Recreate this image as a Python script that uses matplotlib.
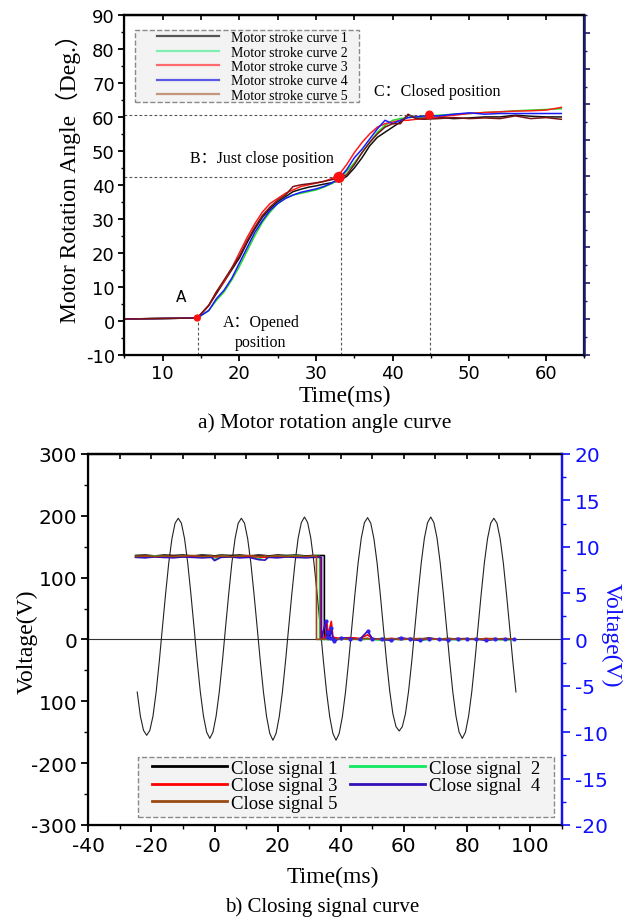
import numpy as np
import matplotlib
matplotlib.use('Agg')
import matplotlib.pyplot as plt
from matplotlib.lines import Line2D
from matplotlib.patches import Rectangle
from matplotlib.ticker import MultipleLocator

serif = ['Liberation Serif', 'Noto Sans CJK SC']
plt.rcParams['font.family'] = ['DejaVu Sans']
plt.rcParams['axes.unicode_minus'] = False

# ---- a) motor stroke curves ----
t_motor = [5, 14.5, 16, 17, 18, 19, 20, 21, 22, 23, 24, 25, 26, 27, 28, 29, 30, 31, 32, 33, 34,
           35, 36, 37, 38, 39, 40, 41, 42, 43, 44, 46, 48, 50, 52, 54, 56, 58, 60, 62]
curve1 = [0.5, 0.8, 4.5, 8, 11.5, 15, 18.5, 23, 27, 30.5, 33, 35, 36.5, 38, 38.7, 39.3, 39.7, 40.2,
          40.6, 41.2, 42.5, 45, 48, 51.5, 54, 55.5, 57, 58.5, 60.5, 60, 60, 59.8, 59.5, 59.7, 60, 60,
          60.5, 60.2, 60, 60]
curve2 = [0.5, 0.8, 3, 6, 8.5, 12, 16, 20.5, 25, 29, 32, 34.5, 36, 37, 37.5, 38, 38.5, 39.3, 40.3,
          41.5, 44, 46.5, 49.5, 52.5, 55.5, 57.5, 59, 59.5, 59.8, 60, 60.2, 60.5, 60.8, 61, 61.3, 61.5,
          61.8, 62, 62.2, 62.4]
curve3 = [0.5, 0.8, 4.5, 8.5, 11.5, 15.5, 20, 24.5, 28.5, 32, 34.5, 36, 37.5, 38.5, 39.5, 40, 40.5,
          41, 41.8, 43, 46, 49.5, 52.5, 55, 57, 58, 58.5, 59, 59, 59.3, 59.5, 60, 60.5, 61, 61.3, 61.5,
          61.7, 61.8, 62, 62.8]
curve4 = [0.5, 0.8, 3, 6.5, 9, 12.5, 17, 21.5, 26, 29.5, 32.5, 34.5, 36, 37, 37.8, 38.3, 38.8, 39.5,
          40.5, 41.8, 44.5, 48, 50.5, 53.5, 56.5, 59, 58, 59, 59.8, 60, 60.3, 60.3, 60.8, 61.2, 60.8, 61,
          61, 61, 61, 61]
curve5 = [0.5, 0.8, 4.5, 8.5, 12, 15.5, 19, 23.5, 27.5, 31, 33.5, 35.5, 37, 39.5, 40, 40.3, 40.6, 41,
          41.5, 42, 43, 46, 49.5, 52.5, 55, 57, 58, 58, 60.8, 59.5, 59.3, 59.5, 59.8, 59.5, 59.7, 59.5,
          60.3, 59.5, 59.8, 59.3]
curve_labels = ['Motor stroke curve 1', 'Motor stroke curve 2', 'Motor stroke curve 3',
                'Motor stroke curve 4', 'Motor stroke curve 5']

# key positions A, B, C
key_x = [14.5, 33.0, 44.8]
key_y = [0.8, 42.2, 60.6]
guide_x = [14.6, 33.2, 44.9]
guide_y = [0.8, 42.3, 60.5]

# ---- b) closing signal ----
t_ac = np.arange(-24.5, 96, 1.0)
v_ac = [-85, -124, -147, -155, -147, -124, -85, -35, 20, 74, 124, 163, 188,
        196, 188, 163, 124, 74, 20, -35, -85, -124, -150, -160, -150, -124, -85, -35, 20, 74, 124, 163, 188,
        196, 188, 163, 124, 74, 20, -35, -85, -125, -152, -163, -152, -125, -85, -35, 20, 74, 124, 164, 189,
        198, 189, 164, 124, 74, 20, -35, -85, -125, -152, -163, -152, -125, -85, -35, 20, 74, 124, 164, 189,
        197, 188, 163, 124, 74, 19, -35, -83, -120, -141, -148, -141, -120, -83, -35, 20, 74, 124, 164, 189,
        198, 189, 164, 124, 74, 20, -35, -85, -124, -150, -160, -150, -124, -85, -35, 20, 74, 124, 163, 188,
        196, 188, 163, 124, 74, 20, -35, -85]

t_high = [-25, -22, -19, -16, -13, -10, -7, -4, -1, 0, 2, 5, 8, 11, 14, 16, 17, 20, 23, 26, 29, 31]
t_low = [35.2, 35.6, 36.0, 36.5, 37.0, 37.5, 38.0, 40, 43, 46, 48.5, 50, 53, 56, 59, 62, 65, 68, 71,
         74, 77, 80, 83, 86, 89, 92, 94.8]
t_drop = [34.8, 33.3, 33.6, 33.9, 32.3]

sig_high = [
    [9.05, 9.1, 9.0, 9.1, 9.05, 9.1, 9.0, 9.1, 9.05, 9.0, 9.1, 9.05, 9.1, 9.0, 9.1, 9.05, 9.0, 9.1, 9.05, 9.1, 9.0, 9.05],
    [8.95, 8.9, 9.0, 8.95, 8.9, 9.0, 8.95, 8.9, 8.95, 8.6, 9.05, 8.9, 8.95, 9.0, 8.7, 8.95, 8.9, 9.0, 8.95, 9.05, 8.9, 8.95],
    [8.9, 8.95, 8.9, 8.85, 8.95, 8.9, 8.95, 8.85, 8.9, 8.9, 8.95, 8.9, 8.85, 8.95, 8.9, 8.85, 8.9, 8.95, 8.9, 8.85, 8.9, 8.9],
    [8.85, 8.8, 8.9, 8.85, 8.8, 8.9, 8.85, 8.8, 8.85, 8.5, 8.85, 8.9, 8.8, 8.85, 8.6, 8.55, 8.85, 8.8, 8.9, 8.85, 8.8, 8.85],
    [8.95, 9.0, 8.95, 9.0, 8.95, 9.0, 9.05, 8.95, 9.0, 8.95, 9.0, 8.95, 9.0, 9.05, 8.95, 9.0, 8.95, 9.0, 8.95, 9.0, 8.95, 9.0],
]
sig_low = [
    [0.1, 0.0, 0.15, 0.05, 0.1, 0.0, 0.1, 0.05, 0.15, 0.05, 0.1, 0.0, 0.1, 0.05, 0.0, 0.1, 0.05, 0.15, 0.0, 0.1, 0.05, 0.1, 0.0, 0.05, 0.1, 0.0, 0.05],
    [0.0, 0.1, -0.05, 0.05, 0.0, -0.1, 0.05, 0.0, 0.1, -0.05, 0.05, 0.0, -0.1, 0.05, 0.0, 0.05, -0.1, 0.0, 0.05, 0.0, -0.05, 0.05, 0.0, 0.1, 0.0, -0.05, 0.0],
    [0.3, 1.9, 0.4, 1.2, 1.95, 0.3, 0.2, 0.1, 0.2, 0.1, 0.5, 0.1, 0.0, 0.1, 0.05, 0.1, 0.0, 0.1, 0.05, 0.0, 0.1, 0.05, 0.0, 0.1, 0.05, 0.0, 0.05],
    [2.0, 0.3, 0.8, 0.2, 1.2, 0.1, -0.2, 0.2, 0.1, 0.0, 0.9, 0.1, 0.0, -0.1, 0.2, 0.0, -0.1, 0.1, 0.0, -0.05, 0.1, 0.0, 0.05, -0.1, 0.0, 0.05, 0.0],
    [0.05, 0.1, 0.0, 0.05, 0.1, 0.0, 0.05, 0.1, 0.0, 0.05, 0.1, 0.0, 0.05, 0.1, 0.0, 0.05, 0.1, 0.0, 0.05, 0.1, 0.0, 0.05, 0.1, 0.0, 0.05, 0.1, 0.05],
]
sig_labels = ['Close signal 1', 'Close signal  2', 'Close signal 3', 'Close signal  4', 'Close signal 5']

motor_colors = ['#111111', '#22dd22', '#ff1a1a', '#1a1aff', '#7a1414']
motor_leg_colors = ['#555555', '#80f0b0', '#ff6a6a', '#5a5ae6', '#c4977a']
sig_colors = ['#000000', '#10e860', '#ff0000', '#3311bb', '#9a4a14']
navy = '#1c1c6a'
blue = '#1010ff'
dash = (0, (2.5, 2))

fig = plt.figure(figsize=(6.44, 9.2), dpi=100)

# ================= top panel =================
ax1 = fig.add_axes([0.1933, 0.6134, 0.714, 0.3692])
for y, c in zip([curve1, curve2, curve3, curve4, curve5], motor_colors):
    ax1.plot(t_motor, y, color=c, lw=1.1)

ax1.hlines(guide_y[1:], 5, guide_x[1:], colors='#555555', linestyles=dash, lw=0.8)
ax1.vlines(guide_x, -10, guide_y, colors='#555555', linestyles=dash, lw=0.8)
ax1.scatter(key_x, key_y, s=[18, 50, 28], color='#ff1010', zorder=5)

ax1.set_xlim(5, 65)
ax1.set_ylim(-10, 90)
ax1.xaxis.set_major_locator(MultipleLocator(10))
ax1.xaxis.set_minor_locator(MultipleLocator(5))
ax1.yaxis.set_major_locator(MultipleLocator(10))
ax1.yaxis.set_minor_locator(MultipleLocator(5))
ax1.tick_params(which='major', direction='out', length=4, width=1.3, labelsize=13, pad=3)
ax1.tick_params(which='minor', direction='out', length=2.5, width=1.0)
for s in ax1.spines.values():
    s.set_linewidth(1.6)
top1 = ax1.secondary_xaxis('top')
top1.xaxis.set_major_locator(MultipleLocator(5))
top1.tick_params(direction='in', length=3.5, width=1.2, labeltop=False)
top1.spines['top'].set_linewidth(1.6)

axr1 = ax1.twinx()
axr1.set_ylim(0, 95)
axr1.yaxis.set_major_locator(MultipleLocator(10))
axr1.yaxis.set_minor_locator(MultipleLocator(5))
axr1.tick_params(which='major', direction='out', length=4, width=1.2, colors=navy, labelright=False)
axr1.tick_params(which='minor', direction='out', length=2.5, width=1.0, colors=navy)
axr1.spines['right'].set_color(navy)
axr1.spines['right'].set_linewidth(1.8)

ax1.set_xlabel('Time(ms)', family=serif, fontsize=17)
ax1.xaxis.set_label_coords(0.479, -0.088)
ax1.set_ylabel('Motor Rotation Angle（Deg.）', family=serif, fontsize=17)
ax1.yaxis.set_label_coords(-0.095, 0.54)

ax1.text(37.6, 67.7, 'C：Closed position', family=serif, fontsize=11.5, va='center')
ax1.text(13.6, 47.9, 'B：Just close position', family=serif, fontsize=11.5, va='center')
ax1.text(12.4, 7.1, 'A', fontsize=11, ha='center', va='center')
ax1.text(22.8, -3.3, 'A：Opened\nposition', family=serif, fontsize=11.5, ha='center', va='center',
         linespacing=1.4)

# legend: entries without frame, plus a dashed box around them
ax1.add_patch(Rectangle((0.0228, 0.745), 0.4872, 0.212, transform=ax1.transAxes,
                        facecolor='#f3f3f3', edgecolor='#8a8a8a', linestyle='--', lw=1.0,
                        zorder=9))
handles1 = [Line2D([], [], color=c, lw=1.6) for c in motor_leg_colors]
leg1 = ax1.legend(handles1, curve_labels, loc='upper left', bbox_to_anchor=(0.0707, 0.952),
                  borderaxespad=0, borderpad=0, prop={'family': serif, 'size': 10},
                  handlelength=4.5, handletextpad=0.8, labelspacing=0.1, frameon=False)
leg1.set_zorder(10)

fig.text(325 / 644, 1 - 423 / 920, 'a) Motor rotation angle curve', family=serif, fontsize=15.5,
         ha='center', va='center')

# ================= bottom panel =================
ax2 = fig.add_axes([0.1371, 0.1022, 0.7351, 0.4033])
ax2.axhline(0, color='#333333', lw=0.8)
ax2.plot(t_ac, v_ac, color='#222222', lw=0.8)
ax2.set_xlim(-40, 110)
ax2.set_ylim(-300, 300)
ax2.xaxis.set_major_locator(MultipleLocator(20))
ax2.xaxis.set_minor_locator(MultipleLocator(10))
ax2.yaxis.set_minor_locator(MultipleLocator(50))
ax2.set_yticks([-300, -200, -100, 0, 100, 200, 300])
ax2.set_yticklabels(['-300', '-200', '100', '0', '100', '200', '300'])
ax2.tick_params(which='major', direction='out', length=5, width=1.3, labelsize=14.5, pad=3)
ax2.tick_params(which='minor', direction='out', length=3, width=1.0)
for s in ax2.spines.values():
    s.set_linewidth(1.6)
top2 = ax2.secondary_xaxis('top')
top2.xaxis.set_major_locator(MultipleLocator(10))
top2.tick_params(direction='in', length=3.5, width=1.2, labeltop=False)
top2.spines['top'].set_linewidth(1.6)

axr2 = ax2.twinx()
for k in range(5):
    tt = t_high + [t_drop[k], t_drop[k]] + t_low
    vv = sig_high[k] + [sig_high[k][-1], 0.0] + sig_low[k]
    axr2.plot(tt, vv, color=sig_colors[k], lw=1.2)
axr2.plot(t_low, sig_low[3], 'o', color='#3322ee', ms=2, lw=0)
axr2.set_ylim(-20, 20)
axr2.yaxis.set_major_locator(MultipleLocator(5))
axr2.yaxis.set_minor_locator(MultipleLocator(2.5))
axr2.tick_params(which='major', direction='out', length=6, width=1.2, colors=blue, labelsize=14.5)
axr2.tick_params(which='minor', direction='out', length=3, width=1.0, colors=blue)
axr2.spines['right'].set_color(blue)
axr2.spines['right'].set_linewidth(1.6)
axr2.set_ylabel('Voltage(V)', family=serif, fontsize=17, color=blue, rotation=270)
axr2.yaxis.set_label_coords(1.127, 0.515)

ax2.set_xlabel('Time(ms)', family=serif, fontsize=17)
ax2.xaxis.set_label_coords(0.516, -0.11)
ax2.set_ylabel('Voltage(V)', family=serif, fontsize=17)
ax2.yaxis.set_label_coords(-0.107, 0.496)

axr2.add_patch(Rectangle((0.105, 0.0216), 0.8787, 0.1617, transform=axr2.transAxes,
                         facecolor='#f3f3f3', edgecolor='#8a8a8a', linestyle='--', lw=1.0,
                         zorder=9))
order = [0, 2, 4, 1, 3]
handles2 = [Line2D([], [], color=sig_colors[i], lw=2) for i in order]
leg2 = axr2.legend(handles2, [sig_labels[i] for i in order], ncol=2, loc='upper left',
                   bbox_to_anchor=(0.1356, 0.176), borderaxespad=0, borderpad=0,
                   prop={'family': serif, 'size': 13.5}, handlelength=4.0, handletextpad=0.2,
                   labelspacing=0.02, columnspacing=0.65, frameon=False)
leg2.set_zorder(10)

fig.text(322 / 644, 1 - 907 / 920, 'b) Closing signal curve', family=serif, fontsize=15,
         ha='center', va='center')

fig.savefig('out.png', dpi=100)
